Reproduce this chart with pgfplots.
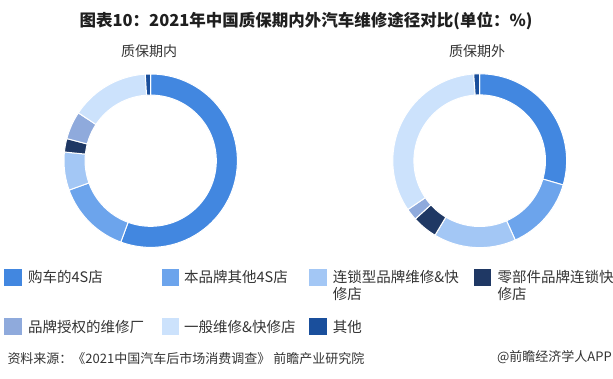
\documentclass[border=0pt]{standalone}
\usepackage{pgfplots}
\usepackage{pgfplotstable}
\pgfplotsset{compat=1.18}
\usepackage{fontspec}
\setmainfont{Noto Sans CJK SC}

\definecolor{c0}{HTML}{4287E0}
\definecolor{c1}{HTML}{6CA4EC}
\definecolor{c2}{HTML}{A3C7F5}
\definecolor{c3}{HTML}{1F3864}
\definecolor{c4}{HTML}{8FAADC}
\definecolor{c5}{HTML}{CCE2FC}
\definecolor{c6}{HTML}{1A4F9C}
\definecolor{txt}{HTML}{333333}

% shares (%) : inner = 质保期内, outer = 质保期外
\pgfplotstableread{
inner outer
55.6 29.5
13.9 13.8
7.1 15.3
2.5 4.7
5.2 2.2
14.7 33.4
1.0 1.1
}\shares

\newcommand\computeangles[2]{%
  \gdef\cum{0}%
  \pgfplotstableforeachcolumnelement{#1}\of\shares\as\val{%
    \pgfmathsetmacro\angA{90-\cum*3.6}%
    \pgfmathsetmacro\tmpc{\cum+\val}%
    \xdef\cum{\tmpc}%
    \pgfmathsetmacro\angB{90-\cum*3.6}%
    \expandafter\xdef\csname #2s\pgfplotstablerow\endcsname{\angA}%
    \expandafter\xdef\csname #2e\pgfplotstablerow\endcsname{\angB}%
  }}
\computeangles{inner}{L}
\computeangles{outer}{R}

\newcommand\ring[1]{%
  \pgfplotsinvokeforeach{0,...,6}{%
    \fill[c##1, draw=white, line width=1pt, line join=round]
      plot[domain={\csname #1s##1\endcsname}:{\csname #1e##1\endcsname}, samples=60, variable=\t] ({cos(\t)},{sin(\t)})
      -- plot[domain={\csname #1e##1\endcsname}:{\csname #1s##1\endcsname}, samples=60, variable=\t] ({0.757*cos(\t)},{0.757*sin(\t)})
      -- cycle;
  }}

\begin{document}
\begin{tikzpicture}[x=1pt,y=1pt]
\useasboundingbox (0,0) rectangle (613,378);

% donuts
\begin{axis}[at={(150.7pt,217.3pt)}, anchor=center, width=173.4pt, height=173.4pt,
  scale only axis, hide axis, xmin=-1, xmax=1, ymin=-1, ymax=1, clip=false]
  \ring{L}
\end{axis}
\begin{axis}[at={(479.7pt,217.3pt)}, anchor=center, width=173.8pt, height=173.8pt,
  scale only axis, hide axis, xmin=-1, xmax=1, ymin=-1, ymax=1, clip=false]
  \ring{R}
\end{axis}

% title
\node[font=\fontsize{16.5}{18}\selectfont\bfseries, text=black!88] at (306,357) {图表10：2021年中国质保期内外汽车维修途径对比(单位：\%)};
\node[font=\fontsize{14}{16}\selectfont, text=txt] at (149,327) {质保期内};
\node[font=\fontsize{14}{16}\selectfont, text=txt] at (477,327) {质保期外};

% legend
\begin{scope}[every node/.style={font=\fontsize{14.5}{16}\selectfont, text=txt, anchor=west, inner sep=0pt}]
\fill[c0] (4.3,109) rectangle ++(17.4,-16.5);
\node at (28,101) {购车的4S店};
\fill[c1] (161.7,109) rectangle ++(17.4,-16.5);
\node at (184,101) {本品牌其他4S店};
\fill[c2] (309.3,109) rectangle ++(17.4,-16.5);
\node at (332.7,101) {连锁型品牌维修\&快};
\node at (332.7,84.5) {修店};
\fill[c3] (474,109) rectangle ++(17.4,-16.5);
\node at (497.3,101) {零部件品牌连锁快};
\node at (497.3,84.5) {修店};
\fill[c4] (4.3,59.7) rectangle ++(17.4,-16.7);
\node at (28,51.3) {品牌授权的维修厂};
\fill[c5] (161.7,59.7) rectangle ++(17.4,-16.7);
\node at (184,51.3) {一般维修\&快修店};
\fill[c6] (309.3,59.7) rectangle ++(17.4,-16.7);
\node at (332.7,51.3) {其他};
\end{scope}

% source
\node[font=\fontsize{13}{15}\selectfont, text=txt, anchor=west, inner sep=0pt] at (7.3,19.7) {资料来源：《2021中国汽车后市场消费调查》 前瞻产业研究院};
\node[font=\fontsize{13}{15}\selectfont, text=txt, anchor=east, inner sep=0pt] at (612,21.3) {@前瞻经济学人APP};
\end{tikzpicture}
\end{document}
